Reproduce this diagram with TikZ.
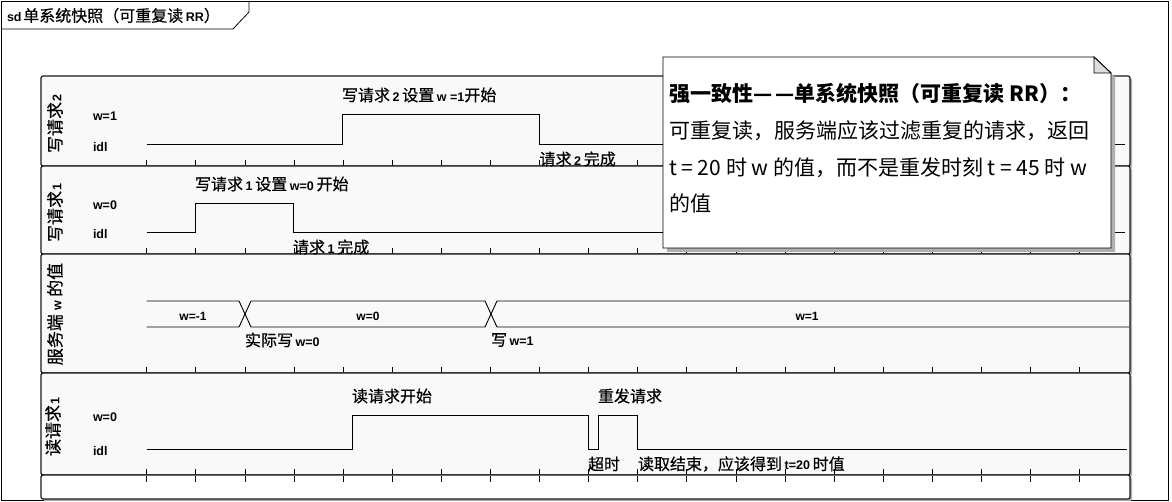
\documentclass[tikz,border=0pt]{standalone}
\usepackage{fontspec}
\setmainfont{Noto Sans CJK SC}
\newfontfamily\cjkm[FakeBold=0.5]{Noto Sans CJK SC}
\newfontfamily\latf{Liberation Sans}
\newcommand\lbf[1]{{\latf\bfseries\fontsize{12.5}{12.5}\selectfont #1}}
\newcommand\cjks{\cjkm\fontsize{16}{16}\selectfont}
\newcommand\notes{\fontsize{21}{21}\selectfont}
\definecolor{lanefill}{RGB}{249,249,249}
\definecolor{shadowc}{RGB}{175,175,175}
\definecolor{foldc}{RGB}{220,220,220}
\begin{document}
\begin{tikzpicture}[x=1pt,y=-1pt,
  every node/.style={inner sep=0pt,outer sep=0pt},
  lanebox/.style={draw=black!90,line width=1.2pt,fill=lanefill,rounded corners=2pt},
  laneshadow/.style={fill=shadowc,rounded corners=2pt},
  wave/.style={line width=0.9pt,black},
  tick/.style={line width=0.7pt,black},
  lvl/.style={anchor=west,font=\latf\bfseries\fontsize{12.5}{12.5}\selectfont},
  busval/.style={font=\latf\bfseries\fontsize{12}{12}\selectfont},
  ann/.style={anchor=west,font=\cjks},
  vlab/.style={rotate=90,font=\cjkm\fontsize{17}{17}\selectfont}]
\useasboundingbox (0,0) rectangle (1172,502);
% outer frame
\draw[line width=1pt] (1.5,1.5) rectangle (1168,500.5);
\draw[line width=0.8pt] (1.5,29) -- (233,29) -- (249,12) -- (249,1.5);
\node[anchor=west] (title) at (7,15.5) {\lbf{sd}\,\cjks 单系统快照（可重复读\,\lbf{RR}）};
% lane shadows
\foreach \ya/\yb in {76/166,166/254,254/373,373/475,475/499}{
  \fill[laneshadow] (43,\ya+2) rectangle (1132,\yb+2);
}
% lanes
\draw[lanebox] (41,76) rectangle (1130,166);
\draw[lanebox] (41,166) rectangle (1130,254);
\draw[lanebox] (41,254) rectangle (1130,373);
\draw[lanebox] (41,373) rectangle (1130,475);
\draw[lanebox,fill=white] (41,475) rectangle (1130,499);
% ticks
\foreach \yb in {166,254,373,475}{
  \foreach \k in {0,...,19}{
    \draw[tick] (146.7+49.1*\k,\yb-6) -- (146.7+49.1*\k,\yb-0.6);
  }
}
\foreach \k in {0,...,19}{
  \draw[tick] (146.7+49.1*\k,475.6) -- (146.7+49.1*\k,482);
}
% lane labels
\node[vlab] (lab1) at (55,124) {写请求\lbf{2}};
\node[vlab] (lab2) at (55,213) {写请求\lbf{1}};
\node[vlab] (lab3) at (55,314) {服务端 \lbf{w} 的值};
\node[vlab] (lab4) at (53,427) {读请求\lbf{1}};
% level labels
\node[lvl] (l1h) at (93,116) {w=1};
\node[lvl] (l1l) at (93,147) {idl};
\node[lvl] (l2h) at (93,205) {w=0};
\node[lvl] (l2l) at (93,234) {idl};
\node[lvl] (l4h) at (93,417) {w=0};
\node[lvl] (l4l) at (93,451) {idl};
% waveforms
\draw[wave] (146.7,144) -- (342.3,144) -- (342.3,114) -- (539.5,114) -- (539.5,144) -- (1125,144);
\draw[wave] (146.7,232) -- (195.8,232) -- (195.8,203) -- (293.3,203) -- (293.3,232) -- (1125,232);
\draw[wave] (146.7,301) -- (239,301) -- (251,327) -- (485,327) -- (497,301) -- (1129,301);
\draw[wave] (146.7,327) -- (239,327) -- (251,301) -- (485,301) -- (497,327) -- (1129,327);
\draw[wave] (146.7,449) -- (352,449) -- (352,415) -- (588.6,415) -- (588.6,449) -- (598,449) -- (598,415) -- (637.7,415) -- (637.7,449) -- (1127,449);
% bus values
\node[busval] (bv1) at (193,316) {w=-1};
\node[busval] (bv2) at (368,316) {w=0};
\node[busval] (bv3) at (807,316) {w=1};
% annotations
\node[ann] (a1) at (342,95) {写请求\,\lbf{2}\,设置\,\lbf{w =1}开始};
\node[ann] (a2) at (539.5,159) {请求\,\lbf{2}\,完成};
\node[ann] (a3) at (195,184) {写请求\,\lbf{1}\,设置\,\lbf{w=0}\,开始};
\node[ann] (a4) at (293,247) {请求\,\lbf{1}\,完成};
\node[ann] (a5) at (245,340) {实际写\,\lbf{w=0}};
\node[ann] (a6) at (491,340) {写\,\lbf{w=1}};
\node[ann] (a7) at (352,396) {读请求开始};
\node[ann] (a8) at (598,396) {重发请求};
\node[ann] (a9) at (588,464) {超时};
\node[ann] (a10) at (638,464) {读取结束，应该得到\,\lbf{t=20}\,时值};
% note
\fill[shadowc] (667,61) -- (1098,61) -- (1115,77) -- (1115,252) -- (667,252) -- cycle;
\draw[line width=0.9pt,fill=white] (663,57) -- (1094,57) -- (1111,73) -- (1111,248) -- (663,248) -- cycle;
\draw[line width=0.9pt,fill=foldc] (1094,57) -- (1094,73) -- (1111,73) -- cycle;
\node[anchor=west,font=\notes\bfseries] (n1) at (669,94) {强一致性—\,—单系统快照（可重复读 RR）：};
\node[anchor=west,font=\notes] (n2) at (669,131) {可重复读，服务端应该过滤重复的请求，返回};
\node[anchor=west,font=\notes] (n3) at (669,168) {t = 20 时 w 的值，而不是重发时刻 t = 45 时 w};
\node[anchor=west,font=\notes] (n4) at (669,203) {的值};
\end{tikzpicture}
\end{document}
